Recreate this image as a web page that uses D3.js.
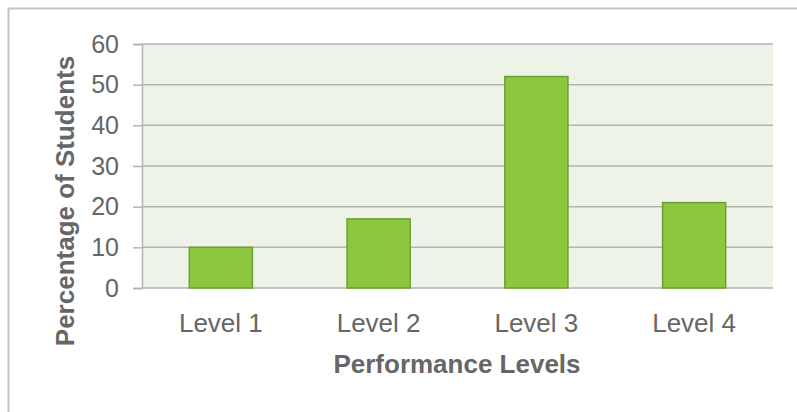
<!DOCTYPE html>
<html><head><meta charset="utf-8">
<script src="https://cdn.jsdelivr.net/npm/d3@7"></script>
<style>body{margin:0;background:#fff;} svg{display:block;}</style>
</head><body>
<svg id="chart" width="797" height="412"></svg>
<script>
const categories = ["Level 1", "Level 2", "Level 3", "Level 4"];
const values = [10, 17, 52, 21];
const yTicks = [0, 10, 20, 30, 40, 50, 60];
const xTitle = "Performance Levels";
const yTitle = "Percentage of Students";

const svg = d3.select("#chart");
const m = {left: 142, right: 773, top: 44, bottom: 288};
const font = "'Liberation Sans', Arial, sans-serif";
const textCol = "#666666";

// outer frame
svg.append("line").attr("x1", 8).attr("x2", 797).attr("y1", 8.5).attr("y2", 8.5)
  .attr("stroke", "#c4c4c4").attr("stroke-width", 2);
svg.append("line").attr("x1", 8.5).attr("x2", 8.5).attr("y1", 8).attr("y2", 412)
  .attr("stroke", "#c4c4c4").attr("stroke-width", 2);

const x = d3.scaleBand().domain(categories).range([m.left, m.right]).paddingInner(0.6).paddingOuter(0.3);
const y = d3.scaleLinear().domain([0, 60]).range([m.bottom, m.top]);

svg.append("rect").attr("x", m.left).attr("y", m.top).attr("width", m.right - m.left)
  .attr("height", m.bottom - m.top).attr("fill", "#eef3e8");

// gridlines + ticks
const yAxis = d3.axisLeft(y).tickValues(yTicks).tickSize(9).tickPadding(14);
const gy = svg.append("g").attr("transform", `translate(${m.left},0)`).call(yAxis);
gy.attr("font-size", null).attr("font-family", null);
gy.select(".domain").attr("stroke", "#b3b3b3").attr("stroke-width", 1.5);
gy.selectAll(".tick line").attr("stroke", "#b3b3b3").attr("stroke-width", 1.5);
gy.selectAll(".tick text").attr("fill", textCol).attr("font-family", font).attr("font-size", 25);

svg.append("g").selectAll("line").data(yTicks).join("line")
  .attr("x1", m.left).attr("x2", m.right)
  .attr("y1", d => y(d)).attr("y2", d => y(d))
  .attr("stroke", "#b3b3b3").attr("stroke-width", 1.5);

// bars
svg.append("g").selectAll("rect").data(values).join("rect")
  .attr("x", (d, i) => x(categories[i]))
  .attr("y", d => y(d))
  .attr("width", x.bandwidth())
  .attr("height", d => y(0) - y(d))
  .attr("fill", "#8dc63f").attr("stroke", "#6f9f30").attr("stroke-width", 1.5);

// x labels
svg.append("g").selectAll("text").data(categories).join("text")
  .attr("x", d => x(d) + x.bandwidth() / 2).attr("y", 332)
  .attr("text-anchor", "middle").attr("fill", textCol)
  .attr("font-family", font).attr("font-size", 26).text(d => d);

svg.append("text").attr("x", 457).attr("y", 373).attr("text-anchor", "middle")
  .attr("fill", textCol).attr("font-family", font).attr("font-size", 26)
  .attr("font-weight", "bold").text(xTitle);

svg.append("text").attr("transform", "translate(74,201) rotate(-90)").attr("text-anchor", "middle")
  .attr("fill", textCol).attr("font-family", font).attr("font-size", 26)
  .attr("font-weight", "bold").text(yTitle);
</script>
</body></html>
